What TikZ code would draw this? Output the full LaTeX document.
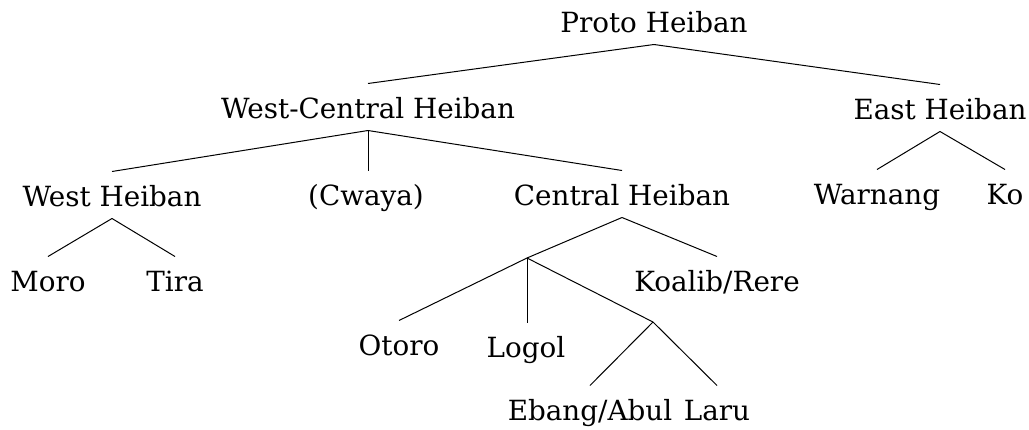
\documentclass[tikz,border=0pt]{standalone}
\usepackage{fontspec}
\setmainfont{DejaVu Serif}

\begin{document}
\begin{tikzpicture}[x=0.5pt, y=-0.5pt, line width=0.5pt,
  every node/.style = {anchor=base, inner xsep=0pt, inner ysep=3pt,
    text height=14pt, text depth=3pt,
    font=\fontsize{13.9}{16}\selectfont}]
  \useasboundingbox (0,0) rectangle (1029,429);
  % top levels
  \node (proto) at (654,32) {Proto Heiban};
  \node (wc) at (368,118) {West-Central Heiban};
  \node (east) at (940,119) {East Heiban};
  % west-central branch
  \node (west) at (112,206) {West Heiban};
  \node (cwaya) at (366,205) {(Cwaya)};
  \node (central) at (622,205) {Central Heiban};
  \node (moro) at (48,291) {Moro};
  \node (tira) at (175,291) {Tira};
  \coordinate (cb) at (527,258);
  \node (koalib) at (717,291) {Koalib/Rere};
  \node (otoro) at (399,355) {Otoro};
  \node (logol) at (526,357) {Logol};
  \coordinate (eb) at (653,322);
  \node (ebang) at (590,420) {Ebang/Abul};
  \node (laru) at (717,420) {Laru};
  % east branch
  \node (warnang) at (877,204) {Warnang};
  \node (ko) at (1005,204) {Ko};

  \draw (proto.south) -- (wc.north);
  \draw (proto.south) -- (east.north);
  \draw (wc.south) -- (west.north);
  \draw (wc.south) -- (wc.south |- cwaya.north);
  \draw (wc.south) -- (central.north);
  \draw (west.south) -- (moro.north);
  \draw (west.south) -- (tira.north);
  \draw (central.south) -- (cb);
  \draw (central.south) -- (koalib.north);
  \draw (cb) -- (otoro.north);
  \draw (cb) -- (cb |- logol.north);
  \draw (cb) -- (eb);
  \draw (eb) -- (ebang.north);
  \draw (eb) -- (laru.north);
  \draw (east.south) -- (warnang.north);
  \draw (east.south) -- (ko.north);
\end{tikzpicture}
\end{document}
